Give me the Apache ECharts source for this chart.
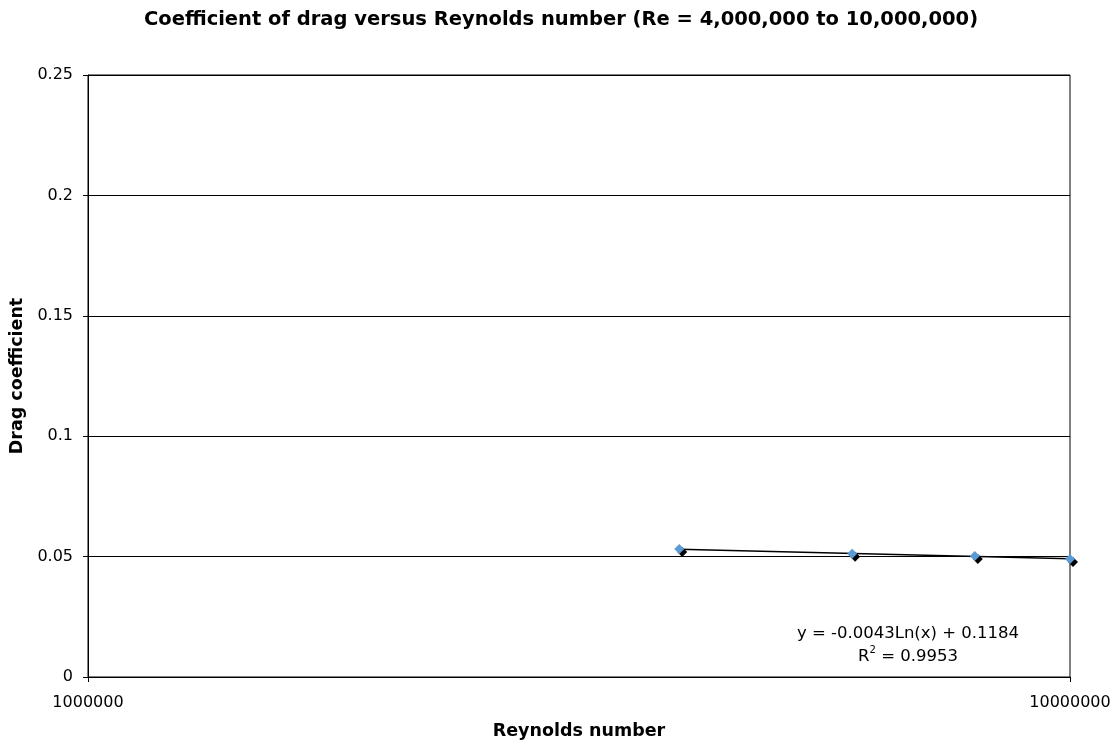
<!DOCTYPE html>
<html>
<head>
<meta charset="utf-8">
<style>
  html, body { margin: 0; padding: 0; background: #fff; }
  #chart { width: 1114px; height: 740px; }
</style>
<script src="https://cdn.jsdelivr.net/npm/echarts@6/dist/echarts.min.js"></script>
</head>
<body>
<div id="chart"></div>
<script>
// Reynolds numbers and measured drag coefficients
const reynolds = [4000000, 6000000, 8000000, 10000000];
const dragCoeff = [0.0532, 0.0512, 0.0502, 0.0490];

// Logarithmic trendline: y = a * ln(x) + b
const trendA = -0.0043;
const trendB = 0.1184;
const trendR2 = 0.9953;

const yTicks = [0, 0.05, 0.1, 0.15, 0.2, 0.25];

const font = 'Verdana, "DejaVu Sans", sans-serif';

const points = reynolds.map((x, i) => [x, dragCoeff[i]]);
const xFirst = reynolds[0];
const xLast = reynolds[reynolds.length - 1];
const trendLine = [
  [xFirst, trendA * Math.log(xFirst) + trendB],
  [xLast, trendA * Math.log(xLast) + trendB]
];

// measure text widths to lay out the R² label with a superscript
const measureCtx = document.createElement('canvas').getContext('2d');
function textWidth(str, size) {
  measureCtx.font = size + 'px ' + font;
  return measureCtx.measureText(str).width;
}

const eqSize = 16.5;
const supSize = 10;
const eqCenterX = 908;
const eqText = 'y = -0.0043Ln(x) + 0.1184';
const r2Rest = ' = ' + trendR2.toFixed(4);
const wR = textWidth('R', eqSize);
const wSup = textWidth('2', supSize);
const wRest = textWidth(r2Rest, eqSize);
const r2Left = eqCenterX - (wR + wSup + wRest) / 2;

const chart = echarts.init(document.getElementById('chart'), null, { renderer: 'canvas' });

chart.setOption({
  backgroundColor: '#ffffff',
  animation: false,
  title: {
    text: 'Coefficient of drag versus Reynolds number (Re = 4,000,000 to 10,000,000)',
    left: 556,
    textAlign: 'center',
    top: 5,
    textStyle: { fontFamily: font, fontSize: 19.5, fontWeight: 'bold', color: '#000' }
  },
  grid: {
    left: 88, right: 44, top: 75, bottom: 63,
    containLabel: false,
    outerBoundsMode: 'none',
    show: true, borderColor: '#000', borderWidth: 1, backgroundColor: '#fff'
  },
  xAxis: {
    type: 'log',
    logBase: 10,
    min: 1000000,
    max: 10000000,
    name: 'Reynolds number',
    nameLocation: 'middle',
    nameGap: 45,
    nameTextStyle: { fontFamily: font, fontSize: 17.5, fontWeight: 'bold', color: '#000' },
    axisLine: { show: true, lineStyle: { color: '#000', width: 1 } },
    axisTick: { show: true, inside: false, length: 5, lineStyle: { color: '#000' } },
    minorTick: { show: false },
    splitLine: { show: false },
    axisLabel: {
      fontFamily: font, fontSize: 16, color: '#000', margin: 18,
      formatter: v => String(Math.round(v))
    }
  },
  yAxis: {
    type: 'value',
    min: 0,
    max: 0.25,
    interval: 0.05,
    name: 'Drag coefficient',
    nameLocation: 'middle',
    nameGap: 62,
    nameRotate: 90,
    nameTextStyle: { fontFamily: font, fontSize: 17.5, fontWeight: 'bold', color: '#000' },
    axisLine: { show: true, lineStyle: { color: '#000', width: 1 } },
    axisTick: { show: true, inside: false, length: 5, lineStyle: { color: '#000' } },
    splitLine: { show: true, lineStyle: { color: '#000', width: 1 } },
    axisLabel: {
      fontFamily: font, fontSize: 16, color: '#000', margin: 15,
      formatter: v => {
        const t = yTicks.find(k => Math.abs(k - v) < 1e-9);
        return String(t !== undefined ? t : v);
      }
    }
  },
  series: [
    {
      name: 'Trendline',
      type: 'line',
      data: trendLine,
      symbol: 'none',
      lineStyle: { color: '#000', width: 1.4 },
      silent: true,
      z: 2
    },
    {
      name: 'Drag coefficient',
      type: 'scatter',
      data: points,
      symbol: 'diamond',
      symbolSize: 10,
      itemStyle: {
        color: '#5b9bd5',
        opacity: 1,
        shadowColor: '#000',
        shadowBlur: 0,
        shadowOffsetX: 3,
        shadowOffsetY: 3
      },
      z: 3
    }
  ],
  graphic: [
    {
      type: 'text',
      x: eqCenterX,
      y: 634,
      style: {
        text: eqText,
        font: eqSize + 'px ' + font,
        fill: '#000',
        align: 'center',
        verticalAlign: 'middle'
      }
    },
    {
      type: 'text',
      x: r2Left,
      y: 657,
      style: { text: 'R', font: eqSize + 'px ' + font, fill: '#000', align: 'left', verticalAlign: 'middle' }
    },
    {
      type: 'text',
      x: r2Left + wR,
      y: 650,
      style: { text: '2', font: supSize + 'px ' + font, fill: '#000', align: 'left', verticalAlign: 'middle' }
    },
    {
      type: 'text',
      x: r2Left + wR + wSup,
      y: 657,
      style: { text: r2Rest, font: eqSize + 'px ' + font, fill: '#000', align: 'left', verticalAlign: 'middle' }
    }
  ]
});
</script>
</body>
</html>
